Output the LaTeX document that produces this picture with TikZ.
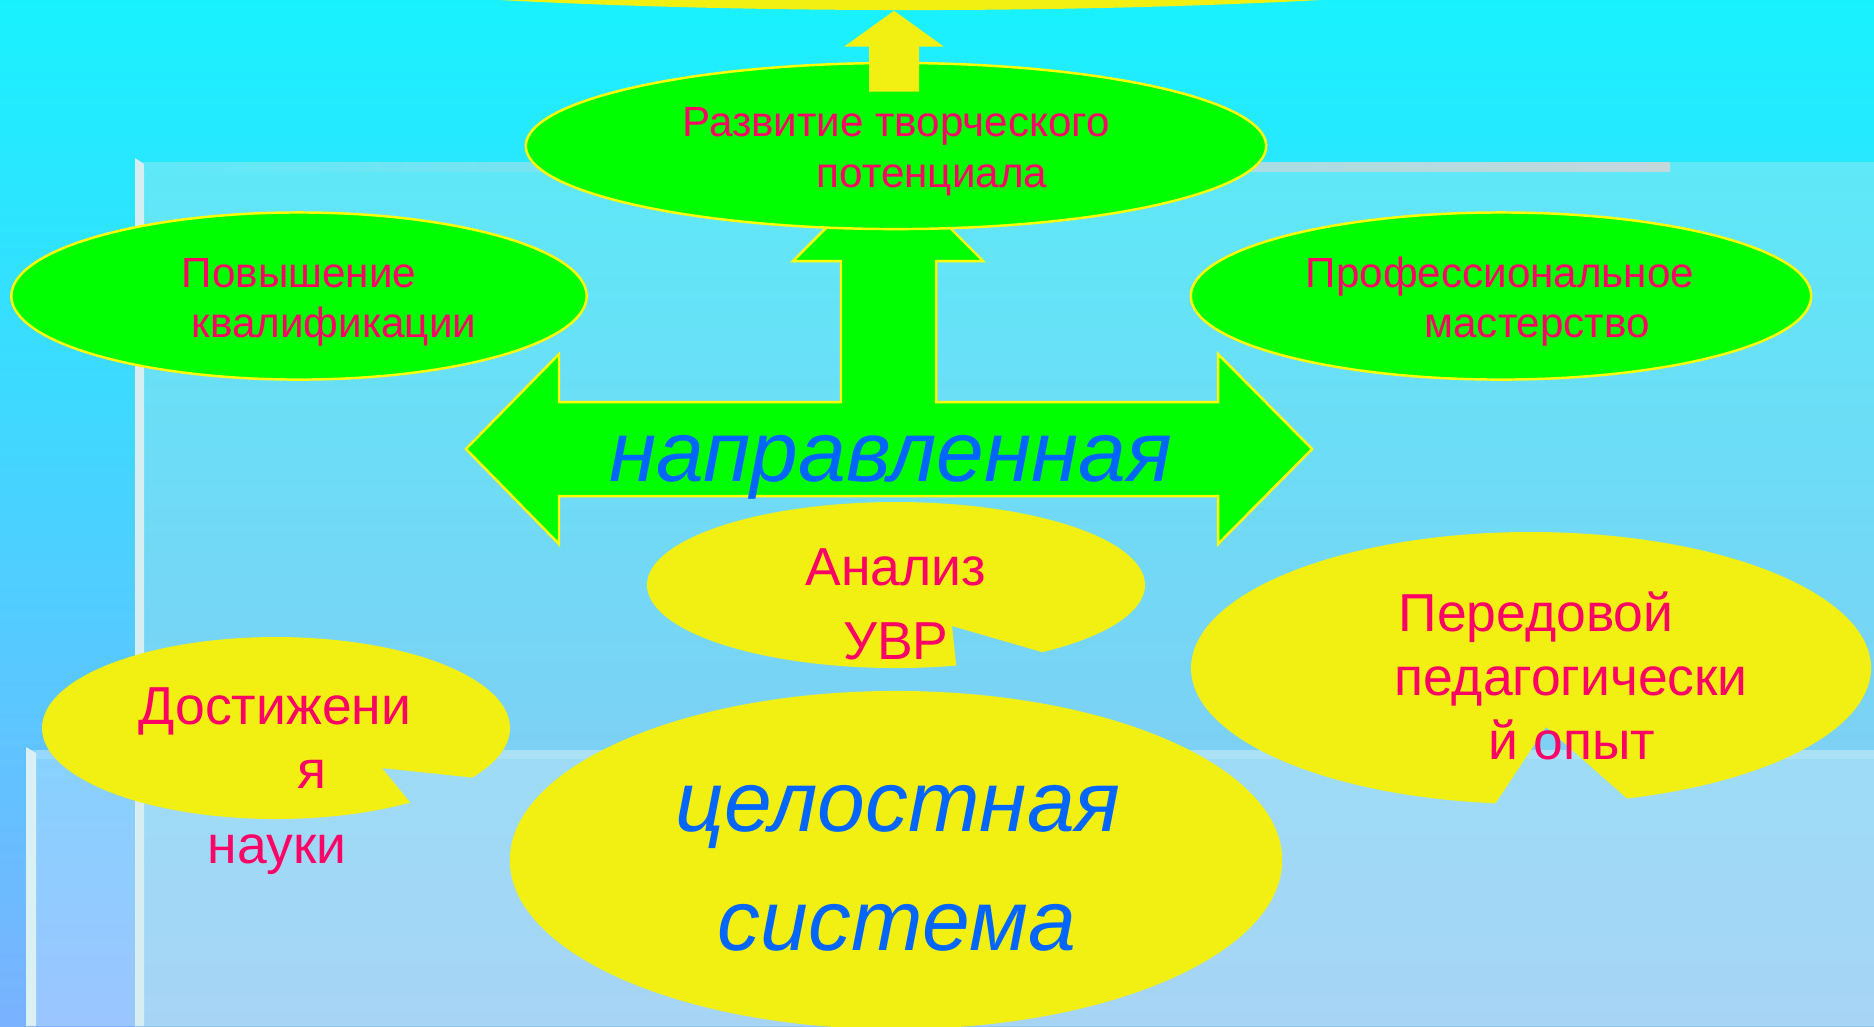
\documentclass[tikz,border=0pt]{standalone}
\usepackage{fontspec}
\setmainfont{Liberation Sans}
\usepackage{tikz}
\usetikzlibrary{shapes.geometric, calc}
\definecolor{skytop}{HTML}{18F2FF}
\definecolor{skybot}{HTML}{7AB2FF}
\definecolor{paneltop}{HTML}{5EE8F8}
\definecolor{panelbot}{HTML}{8AC6F2}
\definecolor{leaf}{HTML}{00FF00}
\definecolor{sun}{HTML}{F2F012}
\definecolor{rim}{HTML}{FFFF00}
\definecolor{rose}{HTML}{FF0066}
\definecolor{ink}{HTML}{0066FF}
\definecolor{frost}{HTML}{D6EEF2}

\begin{document}
\begin{tikzpicture}[x=0.01cm, y=-0.01cm]
\tikzstyle{greenoval}=[ellipse, fill=leaf, draw=rim, line width=0.7pt, inner sep=0pt]
\tikzstyle{sunoval}=[ellipse, fill=sun, inner sep=0pt]
\tikzstyle{smalltext}=[text=rose, anchor=base, inner sep=0pt, font=\fontsize{12}{14}\selectfont]
\tikzstyle{calltext}=[text=rose, anchor=base, inner sep=0pt, font=\fontsize{15.2}{18}\selectfont]
\tikzstyle{bigtext}=[text=ink, anchor=base, inner sep=0pt, font=\fontsize{24.4}{29}\selectfont\itshape]

\useasboundingbox (0,0) rectangle (1874,1026);
\clip (0,0) rectangle (1874,1026);

% background and panels
\fill[top color=skytop, bottom color=skybot] (0,0) rectangle (1874,1026);
\fill[top color=paneltop, bottom color=panelbot] (135,162) rectangle (1874,1026);
\fill[white, opacity=.25] (26,750) rectangle (1874,1026);
\fill[frost] (135,158) -- (144,164) -- (144,1026) -- (135,1026) -- cycle;
\fill[left color=paneltop, right color=frost!80!gray] (144,162) rectangle (1670,171);
\fill[frost!90!white] (26,747) -- (36,753) -- (36,1026) -- (26,1026) -- cycle;
\fill[white, opacity=.15] (36,750) rectangle (1874,759);

% goal at the top
\node[sunoval, minimum width=16.72cm, minimum height=1.56cm] (aim) at (910,-68) {};

% three-way arrow
\filldraw[fill=leaf, draw=rim, line width=0.7pt]
  (466,449) -- (559,354) -- (559,402) -- (841,402) -- (841,261)
  -- (793,261) -- (888,166) -- (983,261) -- (936,261) -- (936,402)
  -- (1218,402) -- (1218,354) -- (1312,449) -- (1218,544) -- (1218,496)
  -- (559,496) -- (559,544) -- cycle;

\node[greenoval, minimum width=7.40cm, minimum height=1.66cm] (razvitie) at (896,146) {};
\node[greenoval, minimum width=5.75cm, minimum height=1.67cm] (povysh) at (299,296) {};
\node[greenoval, minimum width=6.20cm, minimum height=1.67cm] (prof) at (1501,296) {};

% arrow up to the goal
\fill[sun] ($(razvitie.north)+(-27,30)$) -- ($(razvitie.north)+(-27,-15)$)
  -- ($(razvitie.north)+(-52,-15)$) -- ($(razvitie.north |- aim.south)+(-2,0)$) -- ($(razvitie.north)+(48,-15)$)
  -- ($(razvitie.north)+(23,-15)$) -- ($(razvitie.north)+(23,30)$) -- cycle;

% callouts
\fill[sun] ($(896,585)+(76:249 and 83)$) arc[start angle=76, end angle=414, x radius=249, y radius=83] -- (952,626) -- cycle;
\fill[sun] ($(276,728)+(55:234 and 91)$) arc[start angle=55, end angle=393, x radius=234, y radius=91] -- (382,768) -- cycle;
\fill[sun] ($(1531,668)+(96:340 and 136)$) arc[start angle=96, end angle=433.6, x radius=340, y radius=136] -- (1546,727) -- cycle;
\node[sunoval, minimum width=7.72cm, minimum height=3.38cm] (celost) at (896,860) {};

% texts
\node[smalltext] (razv1) at (896,136) {Развитие творческого};
\node[smalltext] (razv2) at (932,187) {потенциала};
\node[smalltext] (pov1) at (299,287) {Повышение};
\node[smalltext] (pov2) at (334,337) {квалификации};
\node[smalltext] (prof1) at (1500,287) {Профессиональное};
\node[smalltext] (prof2) at (1537,337) {мастерство};
\node[bigtext] (napr) at (891,481) {направленная};
\node[calltext] (an1) at (896,585) {Анализ};
\node[calltext] (an2) at (896,659) {УВР};
\node[calltext] (dost1) at (275,724) {Достижени};
\node[calltext] (dost2) at (312,788) {я};
\node[calltext] (dost3) at (277,863) {науки};
\node[calltext] (per1) at (1536,631) {Передовой};
\node[calltext] (per2) at (1571,695) {педагогически};
\node[calltext] (per3) at (1572,759) {й опыт};
\node[bigtext] (cel1) at (898,831) {целостная};
\node[bigtext] (cel2) at (897,950) {система};

\end{tikzpicture}
\end{document}
